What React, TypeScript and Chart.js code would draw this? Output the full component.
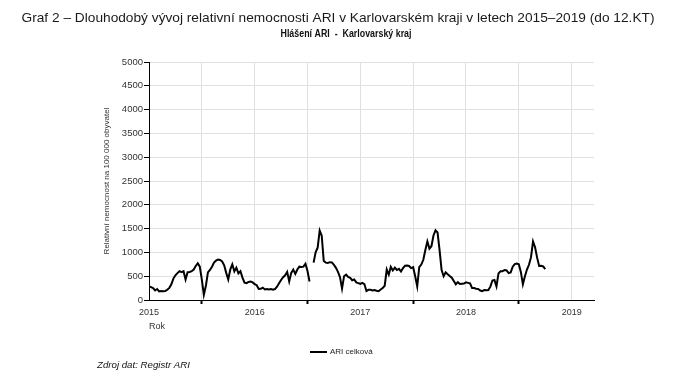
import React, { useEffect, useRef } from 'react';
import { Chart, registerables } from 'chart.js';

Chart.register(...registerables);

const chartTitle =
  'Graf 2 – Dlouhodobý vývoj relativní nemocnosti ARI v Karlovarském kraji v letech 2015–2019 (do 12.KT)';
const chartSubtitle = 'Hlášení ARI  -  Karlovarský kraj';
const sourceNote = 'Zdroj dat: Registr ARI';
const yAxisTitle = 'Relativní nemocnost na 100 000 obyvatel';
const xAxisTitle = 'Rok';
const seriesLabel = 'ARI celková';
const yearLabels = ['2015', '2016', '2017', '2018', '2019'];
const weeksPerYear = 52;
const axisEndWeek = 219;
const yMax = 5000;
const yStep = 500;

// weekly values (relative morbidity per 100 000), null = missing week
const weeklyValues: (number | null)[] = [
  285, 270, 250, 200, 230, 180, 190, 185, 190, 215,
  255, 330, 450, 520, 565, 605, 585, 605, 430, 585,
  590, 605, 640, 715, 770, 700, 430, 110, 300, 580,
  630, 700, 785, 830, 850, 840, 810, 730, 570, 430,
  640, 750, 600, 680, 560, 605, 470, 365, 355, 380,
  390, 370, 335, 310, 230, 235, 260, 220, 230, 220,
  230, 215, 230, 280, 350, 420, 480, 520, 590, 390,
  570, 640, 550, 640, 700, 695, 700, 760, 610, 390,
  null, 785, 1000, 1100, 1460, 1350, 820, 785, 780, 795,
  790, 740, 675, 590, 480, 240, 500, 535, 485, 465,
  415, 430, 370, 355, 340, 360, 335, 190, 215, 215,
  200, 210, 195, 185, 220, 250, 300, 640, 535, 695,
  620, 680, 630, 655, 600, 670, 720, 725, 715, 670,
  690, 500, 285, 690, 745, 845, 1050, 1230, 1080, 1130,
  1355, 1465, 1420, 1050, 630, 500, 580, 540, 505, 470,
  400, 330, 375, 335, 340, 345, 370, 360, 350, 250,
  250, 235, 230, 200, 185, 210, 205, 210, 280, 410,
  420, 285, 560, 605, 605, 630, 620, 565, 580, 700,
  755, 765, 750, 590, 330, 500, 640, 740, 900, 1230,
  1110, 890, 715, 720, 705, 650,
];

const SANS = '"Liberation Sans", Arial, sans-serif';

function drawFitted(
  ctx: CanvasRenderingContext2D,
  text: string,
  font: string,
  cx: number,
  cy: number,
  targetWidth: number,
  color: string
) {
  ctx.save();
  ctx.font = font;
  const w = ctx.measureText(text).width;
  const sx = targetWidth / w;
  ctx.translate(cx, cy);
  ctx.scale(sx, 1);
  ctx.fillStyle = color;
  ctx.textAlign = 'center';
  ctx.textBaseline = 'middle';
  ctx.fillText(text, 0, 0);
  ctx.restore();
}

const textPlugin = {
  id: 'pageTexts',
  afterDraw(chart: any) {
    const ctx: CanvasRenderingContext2D = chart.ctx;
    drawFitted(ctx, chartTitle, `13px ${SANS}`, 338, 18, 633, '#1a1a1a');
    drawFitted(ctx, chartSubtitle, `bold 10px ${SANS}`, 346, 34, 131, '#111');
    drawFitted(ctx, sourceNote, `italic 9.5px ${SANS}`, 143.5, 365, 93, '#111');

    // legend
    const ds = chart.data.datasets[0];
    ctx.save();
    ctx.strokeStyle = ds.borderColor;
    ctx.lineWidth = 2;
    ctx.beginPath();
    ctx.moveTo(310, 352);
    ctx.lineTo(327, 352);
    ctx.stroke();
    ctx.fillStyle = '#222';
    ctx.font = `8px ${SANS}`;
    ctx.textAlign = 'left';
    ctx.textBaseline = 'middle';
    ctx.fillText(ds.label, 330, 352);
    ctx.restore();
  },
};

export default function App() {
  const ref = useRef<HTMLCanvasElement | null>(null);

  useEffect(() => {
    if (!ref.current) return;
    const data = weeklyValues.map((v, i) => ({ x: i, y: v }));
    const chart = new Chart(ref.current, {
      type: 'line',
      data: {
        datasets: [
          {
            label: seriesLabel,
            data: data as any,
            borderColor: '#000',
            borderWidth: 2,
            pointRadius: 0,
            tension: 0,
            spanGaps: false,
          },
        ],
      },
      options: {
        responsive: false,
        animation: false,
        events: [],
        layout: { padding: { top: 62, left: 0, right: 81, bottom: 48 } },
        plugins: {
          legend: { display: false },
          title: { display: false },
          tooltip: { enabled: false },
        },
        scales: {
          x: {
            type: 'linear',
            min: 0,
            max: axisEndWeek,
            afterFit: (s: any) => {
              s.height = 32;
            },
            ticks: {
              stepSize: weeksPerYear / 2,
              includeBounds: false,
              autoSkip: false,
              maxRotation: 0,
              padding: 3,
              color: '#333',
              font: { family: SANS, size: 9 },
              callback: (v: any) =>
                Number(v) % weeksPerYear === 0 ? yearLabels[Number(v) / weeksPerYear] ?? '' : '',
            },
            grid: {
              color: '#e0e0e0',
              lineWidth: 1,
              tickLength: 4,
              tickWidth: 2,
              tickColor: (c: any) =>
                c.tick && c.tick.value % weeksPerYear === weeksPerYear / 2 ? '#000' : 'rgba(0,0,0,0)',
            },
            border: { display: true, color: '#000', width: 1 },
            title: {
              display: true,
              text: xAxisTitle,
              align: 'start',
              color: '#333',
              font: { family: SANS, size: 9 },
              padding: { top: 0, bottom: 0 },
            },
          },
          y: {
            min: 0,
            max: yMax,
            afterFit: (s: any) => {
              s.width = 149;
            },
            ticks: {
              stepSize: yStep,
              padding: 1,
              color: '#333',
              font: { family: SANS, size: 9.5 },
              callback: (v: any) => String(v),
            },
            grid: {
              color: '#e0e0e0',
              lineWidth: 1,
              tickLength: 5,
              tickColor: '#000',
            },
            border: { display: true, color: '#000', width: 1 },
            title: {
              display: true,
              text: yAxisTitle,
              color: '#333',
              font: { family: SANS, size: 8 },
              padding: { top: 102, bottom: 0 },
            },
          },
        },
      },
      plugins: [textPlugin],
    });
    return () => chart.destroy();
  }, []);

  return (
    <div style={{ position: 'absolute', left: 0, top: 0, width: 675, height: 380, background: '#fff' }}>
      <canvas ref={ref} width={675} height={380} style={{ display: 'block' }} />
    </div>
  );
}
